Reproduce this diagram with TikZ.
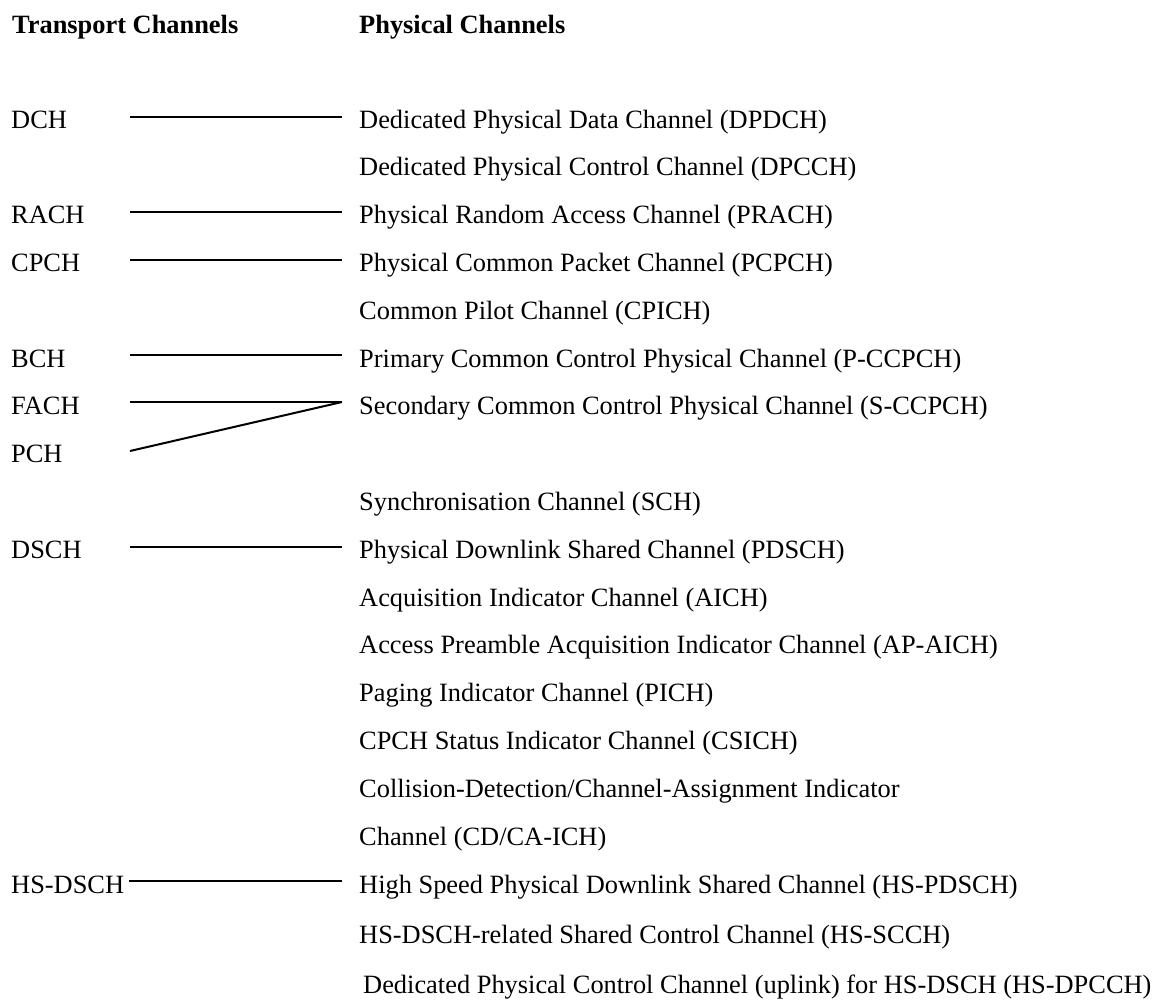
\documentclass[tikz,border=0pt]{standalone}
\usepackage{fontspec}
\setmainfont{Liberation Serif}
\begin{document}
\begin{tikzpicture}[x=1pt,y=-1pt,
  txt/.style={anchor=base west,inner sep=0pt,font=\fontsize{26.4}{30}\selectfont},
  hdr/.style={txt,font=\fontsize{26.4}{30}\selectfont\bfseries},
  link/.style={line width=2pt,line cap=butt}]
\useasboundingbox (0,0) rectangle (1157,1002);
% headers
\node[hdr] (ht) at (12,33) {Transport Channels};
\node[hdr] (hp) at (359,33) {Physical Channels};
% transport channels
\node[txt] (dch)  at (11,128.0) {DCH};
\node[txt] (rach) at (11,223.6) {RACH};
\node[txt] (cpch) at (11,271.4) {CPCH};
\node[txt] (bch)  at (11,367.0) {BCH};
\node[txt] (fach) at (11,414.8) {FACH};
\node[txt] (pch)  at (11,462.6) {PCH};
\node[txt] (dsch) at (11,558.2) {DSCH};
\node[txt] (hsdsch) at (11,893.0) {HS-DSCH};
% physical channels
\node[txt] (p0)  at (359,128.0) {Dedicated Physical Data Channel (DPDCH)};
\node[txt] (p1)  at (359,175.8) {Dedicated Physical Control Channel (DPCCH)};
\node[txt] (p2)  at (359,223.6) {Physical Random Access Channel (PRACH)};
\node[txt] (p3)  at (359,271.4) {Physical Common Packet Channel (PCPCH)};
\node[txt] (p4)  at (359,319.2) {Common Pilot Channel (CPICH)};
\node[txt] (p5)  at (359,367.0) {Primary Common Control Physical Channel (P-CCPCH)};
\node[txt] (p6)  at (359,414.8) {Secondary Common Control Physical Channel (S-CCPCH)};
\node[txt] (p8)  at (359,510.4) {Synchronisation Channel (SCH)};
\node[txt] (p9)  at (359,558.2) {Physical Downlink Shared Channel (PDSCH)};
\node[txt] (p10) at (359,606.0) {Acquisition Indicator Channel (AICH)};
\node[txt] (p11) at (359,653.8) {Access Preamble Acquisition Indicator Channel (AP-AICH)};
\node[txt] (p12) at (359,701.6) {Paging Indicator Channel (PICH)};
\node[txt] (p13) at (359,749.4) {CPCH Status Indicator Channel (CSICH)};
\node[txt] (p14) at (359,797.2) {Collision-Detection/Channel-Assignment Indicator};
\node[txt] (p15) at (359,845.0) {Channel (CD/CA-ICH)};
\node[txt] (p16) at (359,893.0) {High Speed Physical Downlink Shared Channel (HS-PDSCH)};
\node[txt] (p17) at (359,943.0) {HS-DSCH-related Shared Control Channel (HS-SCCH)};
\node[txt] (p18) at (363,993.0) {Dedicated Physical Control Channel (uplink) for HS-DSCH (HS-DPCCH)};
% connector end points
\coordinate (a0) at (130,117);  \coordinate (b0) at (342,117);
\coordinate (a2) at (130,212);  \coordinate (b2) at (342,212);
\coordinate (a3) at (130,260);  \coordinate (b3) at (342,260);
\coordinate (a5) at (130,355);  \coordinate (b5) at (342,355);
\coordinate (a6) at (130,402);  \coordinate (b6) at (342,402);
\coordinate (a7) at (130,451);
\coordinate (a9) at (130,547);  \coordinate (b9) at (342,547);
\coordinate (a16) at (129,881); \coordinate (b16) at (342,881);
% connectors
\draw[link] (a0) -- (b0);
\draw[link] (a2) -- (b2);
\draw[link] (a3) -- (b3);
\draw[link] (a5) -- (b5);
\draw[link] (a6) -- (b6);
\draw[link] (a7) -- (b6);
\draw[link] (a9) -- (b9);
\draw[link] (a16) -- (b16);
\end{tikzpicture}
\end{document}
